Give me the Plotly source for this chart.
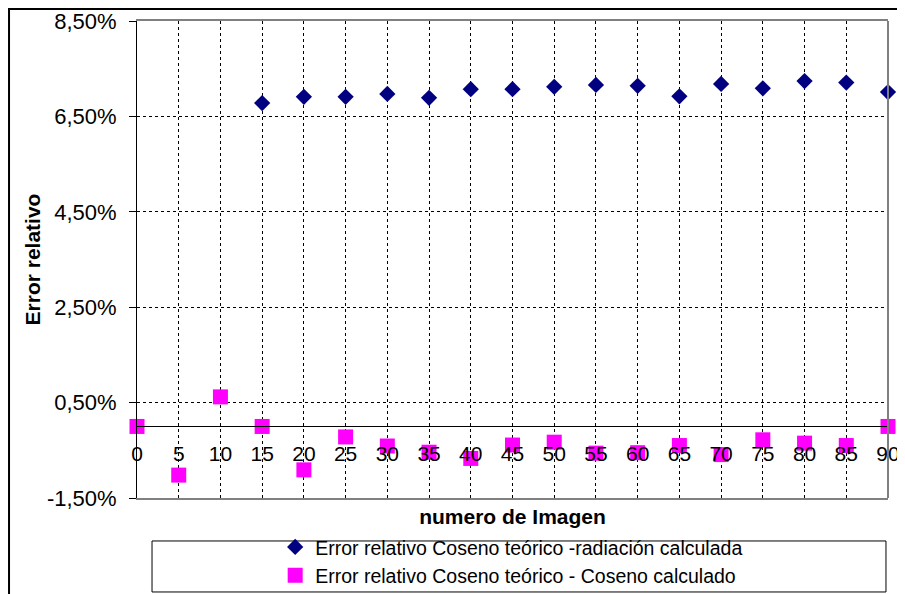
import plotly.graph_objects as go

# numero de imagen
imagenes = [0, 5, 10, 15, 20, 25, 30, 35, 40, 45, 50, 55, 60, 65, 70, 75, 80, 85, 90]

# error relativo coseno teorico - radiacion calculada (no data before 15)
err_radiacion = [None, None, None, 0.0678, 0.0691, 0.0691, 0.0697, 0.0689, 0.0707, 0.0707,
                 0.0712, 0.0716, 0.0714, 0.0692, 0.0718, 0.0709, 0.0724, 0.0721, 0.0701]

# error relativo coseno teorico - coseno calculado
err_coseno = [0.0000, -0.0102, 0.0062, 0.0000, -0.0091, -0.0022, -0.0041, -0.0054, -0.0067, -0.0039,
              -0.0033, -0.0056, -0.0055, -0.0040, -0.0059, -0.0028, -0.0035, -0.0040, 0.0000]

y_ticks = [-0.015, 0.005, 0.025, 0.045, 0.065, 0.085]
# excel style labels: decimal comma, plain hyphen
y_labels = [f"{v * 100:.2f}%".replace('.', ',') for v in y_ticks]

font = "Liberation Sans, Arial, sans-serif"

fig = go.Figure()

fig.add_trace(go.Scatter(
    x=imagenes, y=err_radiacion, mode='markers',
    name='Error relativo Coseno teórico -radiación calculada',
    marker=dict(symbol='diamond', size=12.5, color='#000080'),
    cliponaxis=False
))
fig.add_trace(go.Scatter(
    x=imagenes, y=err_coseno, mode='markers',
    name='Error relativo Coseno teórico - Coseno calculado',
    marker=dict(symbol='square', size=15, color='#FF00FF'),
    cliponaxis=False
))

# plot border right side (grey) and legend box / outer frame
fig.add_shape(type='line', xref='x domain', yref='y domain', x0=1, x1=1, y0=0, y1=1,
              line=dict(color='#808080', width=2))
fig.add_shape(type='rect', xref='paper', yref='paper', x0=0.02, x1=0.9973, y0=-0.197, y1=-0.0901,
              line=dict(color='black', width=1))
fig.add_shape(type='rect', xref='paper', yref='paper', x0=-0.1704, x1=1.06, y0=-0.25, y1=1.0252,
              line=dict(color='black', width=2))

# the page body adds 8px, so the figure is a bit smaller than the window
fig.update_layout(
    width=897, height=586,
    margin=dict(l=129, r=17, t=13, b=96),
    paper_bgcolor='white', plot_bgcolor='white',
    font=dict(family=font, color='black', size=21),
    showlegend=True,
    # container ref so the legend does not push the bottom margin
    legend=dict(x=0.184, xanchor='left', xref='paper', y=0.113, yanchor='top', yref='container',
                font=dict(size=19.5), bgcolor='rgba(0,0,0,0)'),
    xaxis=dict(
        range=[0, 90], dtick=5, tick0=0, automargin=False,
        showticklabels=False, ticks='',
        showgrid=True, gridcolor='black', griddash='dot', gridwidth=1,
        showline=True, linecolor='#808080', linewidth=2, mirror=True,
        zeroline=False,
        title=dict(text='<b>numero de Imagen</b>', font=dict(size=21), standoff=19),
    ),
    xaxis2=dict(
        overlaying='x', matches='x', anchor='free', position=0.15,
        range=[0, 90], dtick=5, tick0=0, automargin=False,
        showgrid=False, zeroline=False,
        ticks='outside', ticklen=8, tickcolor='rgba(0,0,0,0)',
        showline=True, linecolor='black', linewidth=1,
        tickfont=dict(size=21),
    ),
    yaxis=dict(
        range=[-0.015, 0.085], tickvals=y_ticks, ticktext=y_labels, automargin=False,
        showgrid=True, gridcolor='black', griddash='dot', gridwidth=1,
        showline=True, linecolor='black', linewidth=1,
        ticks='outside', ticklen=7, tickcolor='black', ticklabelstandoff=8,
        zeroline=False, tickfont=dict(size=22),
        title=dict(text='<b>Error relativo</b>', font=dict(size=21), standoff=0),
    ),
)

# dummy trace so the second x axis (labels on the zero line) is drawn
fig.add_trace(go.Scatter(x=[None], y=[None], xaxis='x2', showlegend=False, hoverinfo='skip'))

fig.write_html("out.html")
